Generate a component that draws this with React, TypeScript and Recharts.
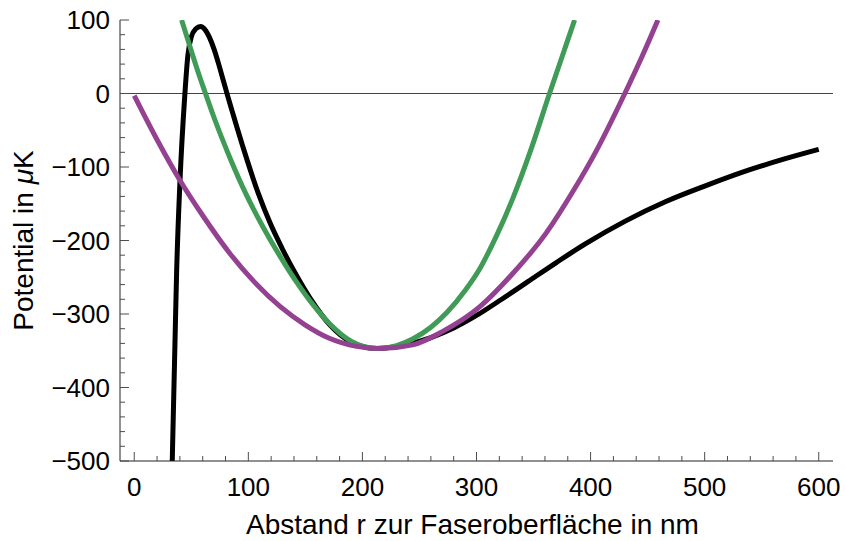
import React from 'react';
import { LineChart, Line, XAxis, YAxis, ReferenceLine } from 'recharts';

// tick positions (major + minor every 20)
const xMajor = [0, 100, 200, 300, 400, 500, 600];
const xTicks = [
  0, 20, 40, 60, 80, 100, 120, 140, 160, 180, 200, 220, 240, 260, 280, 300, 320, 340, 360, 380,
  400, 420, 440, 460, 480, 500, 520, 540, 560, 580, 600,
];
const yMajor = [-500, -400, -300, -200, -100, 0, 100];
const yTicks = [
  -500, -480, -460, -440, -420, -400, -380, -360, -340, -320, -300, -280, -260, -240, -220, -200,
  -180, -160, -140, -120, -100, -80, -60, -40, -20, 0, 20, 40, 60, 80, 100,
];

const fullPotential = [
  { x: 33.3, y: -500 }, { x: 35.6, y: -345 }, { x: 37.1, y: -245 }, { x: 40, y: -122 },
  { x: 44.4, y: 0 }, { x: 47, y: 52 }, { x: 50, y: 77 }, { x: 54, y: 88 }, { x: 58, y: 91 },
  { x: 62, y: 87 }, { x: 66, y: 76 }, { x: 70, y: 60 }, { x: 74, y: 40 }, { x: 78, y: 18 },
  { x: 82, y: -4 }, { x: 86, y: -25 }, { x: 90, y: -46 }, { x: 99, y: -91 }, { x: 109, y: -137 },
  { x: 119, y: -176 }, { x: 130, y: -212 }, { x: 142, y: -247 }, { x: 156, y: -283 },
  { x: 171, y: -314 }, { x: 190, y: -338 }, { x: 213, y: -347 }, { x: 240, y: -341 },
  { x: 260, y: -332 }, { x: 280, y: -319 }, { x: 300, y: -302 }, { x: 320, y: -282 },
  { x: 345, y: -256 }, { x: 370, y: -230 }, { x: 395, y: -205 }, { x: 430, y: -174 },
  { x: 466, y: -147 }, { x: 500, y: -126 }, { x: 539, y: -104 }, { x: 570, y: -89 }, { x: 600, y: -76 },
];

const narrowFit = [
  { x: 41.5, y: 100 }, { x: 50, y: 58 }, { x: 56, y: 29 }, { x: 62, y: 2 }, { x: 70, y: -33 },
  { x: 84, y: -88 }, { x: 98, y: -137 }, { x: 113, y: -182 }, { x: 128, y: -222 },
  { x: 142, y: -256 }, { x: 157, y: -288 }, { x: 171, y: -313 }, { x: 190, y: -337 },
  { x: 213, y: -347 }, { x: 230, y: -343 }, { x: 244, y: -334 }, { x: 260, y: -318 },
  { x: 274, y: -298 }, { x: 290, y: -268 }, { x: 303, y: -238 }, { x: 318, y: -192 },
  { x: 332, y: -142 }, { x: 348, y: -75 }, { x: 364, y: 0 }, { x: 375, y: 50 }, { x: 386, y: 100 },
];

const wideFit = [
  { x: 0, y: -3 }, { x: 20, y: -63 }, { x: 40, y: -118 }, { x: 60, y: -166 }, { x: 84, y: -218 },
  { x: 105, y: -256 }, { x: 128, y: -290 }, { x: 150, y: -315 }, { x: 171, y: -333 },
  { x: 195, y: -344 }, { x: 215, y: -347 }, { x: 244, y: -342 }, { x: 270, y: -324 },
  { x: 303, y: -290 }, { x: 330, y: -248 }, { x: 361, y: -190 }, { x: 385, y: -132 },
  { x: 405, y: -78 }, { x: 430, y: 0 }, { x: 445, y: 50 }, { x: 459, y: 100 },
];

const FONT = '"Liberation Sans", Arial, sans-serif';
const TICK = '#4d4d4d';
const fmt = (v: number) => (v < 0 ? `\u2212${-v}` : `${v}`);

const BottomTick = (props: any) => {
  const { x, y, payload } = props;
  const major = xMajor.includes(payload.value);
  return (
    <g>
      <line x1={x} x2={x} y1={y} y2={y - (major ? 9 : 5)} stroke={TICK} strokeWidth={1} />
      {major && (
        <text x={x} y={y + 17} dy="0.71em" textAnchor="middle" fontSize={26} fontFamily={FONT} fill="#000">
          {fmt(payload.value)}
        </text>
      )}
    </g>
  );
};

const TopTick = (props: any) => {
  const { x, y, payload } = props;
  const major = xMajor.includes(payload.value);
  return <line x1={x} x2={x} y1={y} y2={y + (major ? 9 : 5)} stroke={TICK} strokeWidth={1} />;
};

const LeftTick = (props: any) => {
  const { x, y, payload } = props;
  const major = yMajor.includes(payload.value);
  return (
    <g>
      <line x1={x} x2={x + (major ? 9 : 5)} y1={y} y2={y} stroke={TICK} strokeWidth={1} />
      {major && (
        <text x={x - 10} y={y} dy="0.355em" textAnchor="end" fontSize={26} fontFamily={FONT} fill="#000">
          {fmt(payload.value)}
        </text>
      )}
    </g>
  );
};

const RightTick = (props: any) => {
  const { x, y, payload } = props;
  const major = yMajor.includes(payload.value);
  return <line x1={x} x2={x - (major ? 9 : 5)} y1={y} y2={y} stroke={TICK} strokeWidth={1} />;
};

const XTitle = (props: any) => {
  const vb = props.viewBox || {};
  return (
    <text x={vb.x + vb.width / 2 - 4} y={534} textAnchor="middle" fontSize={28} fontFamily={FONT} fill="#000">
      Abstand r zur Faseroberfläche in nm
    </text>
  );
};

const YTitle = (props: any) => {
  const vb = props.viewBox || {};
  const cx = vb.x + 33;
  const cy = vb.y + vb.height / 2;
  return (
    <text
      x={cx}
      y={cy}
      textAnchor="middle"
      transform={`rotate(-90 ${cx} ${cy})`}
      fontSize={28}
      fontFamily={FONT}
      fill="#000"
    >
      Potential in <tspan fontStyle="italic">μ</tspan>K
    </text>
  );
};

export default function App() {
  const frame = { stroke: '#222', strokeWidth: 1 };
  return (
    <div style={{ position: 'absolute', left: 0, top: 0, background: '#fff' }}>
      <LineChart width={845} height={541} margin={{ top: 20, right: 12, left: 0, bottom: 0 }}>
        <XAxis
          xAxisId="b"
          dataKey="x"
          type="number"
          orientation="bottom"
          domain={[-12.5, 612.5]}
          allowDataOverflow
          ticks={xTicks}
          interval={0}
          height={80}
          tickSize={0}
          tickMargin={0}
          tickLine={false}
          axisLine={frame}
          tick={<BottomTick />}
          label={<XTitle />}
        />
        <XAxis
          xAxisId="t"
          dataKey="x"
          type="number"
          orientation="top"
          domain={[-12.5, 612.5]}
          allowDataOverflow
          ticks={xTicks}
          interval={0}
          height={0}
          tickSize={0}
          tickMargin={0}
          tickLine={false}
          axisLine={frame}
          tick={<TopTick />}
        />
        <YAxis
          yAxisId="l"
          type="number"
          orientation="left"
          domain={[-500, 100]}
          allowDataOverflow
          ticks={yTicks}
          interval={0}
          width={120}
          tickSize={0}
          tickMargin={0}
          tickLine={false}
          axisLine={frame}
          tick={<LeftTick />}
          label={<YTitle />}
        />
        <YAxis
          yAxisId="r"
          type="number"
          orientation="right"
          domain={[-500, 100]}
          allowDataOverflow
          ticks={yTicks}
          interval={0}
          width={0}
          tickSize={0}
          tickMargin={0}
          tickLine={false}
          axisLine={frame}
          tick={<RightTick />}
        />
        <ReferenceLine xAxisId="b" yAxisId="l" y={0} stroke="#444" strokeWidth={1.2} />
        <Line
          xAxisId="b"
          yAxisId="l"
          data={fullPotential}
          dataKey="y"
          type="monotone"
          stroke="#000"
          strokeWidth={5}
          dot={false}
          isAnimationActive={false}
        />
        <Line
          xAxisId="b"
          yAxisId="l"
          data={narrowFit}
          dataKey="y"
          type="monotone"
          stroke="#3f9b56"
          strokeWidth={5}
          dot={false}
          isAnimationActive={false}
        />
        <Line
          xAxisId="b"
          yAxisId="l"
          data={wideFit}
          dataKey="y"
          type="monotone"
          stroke="#954191"
          strokeWidth={5}
          dot={false}
          isAnimationActive={false}
        />
      </LineChart>
    </div>
  );
}
